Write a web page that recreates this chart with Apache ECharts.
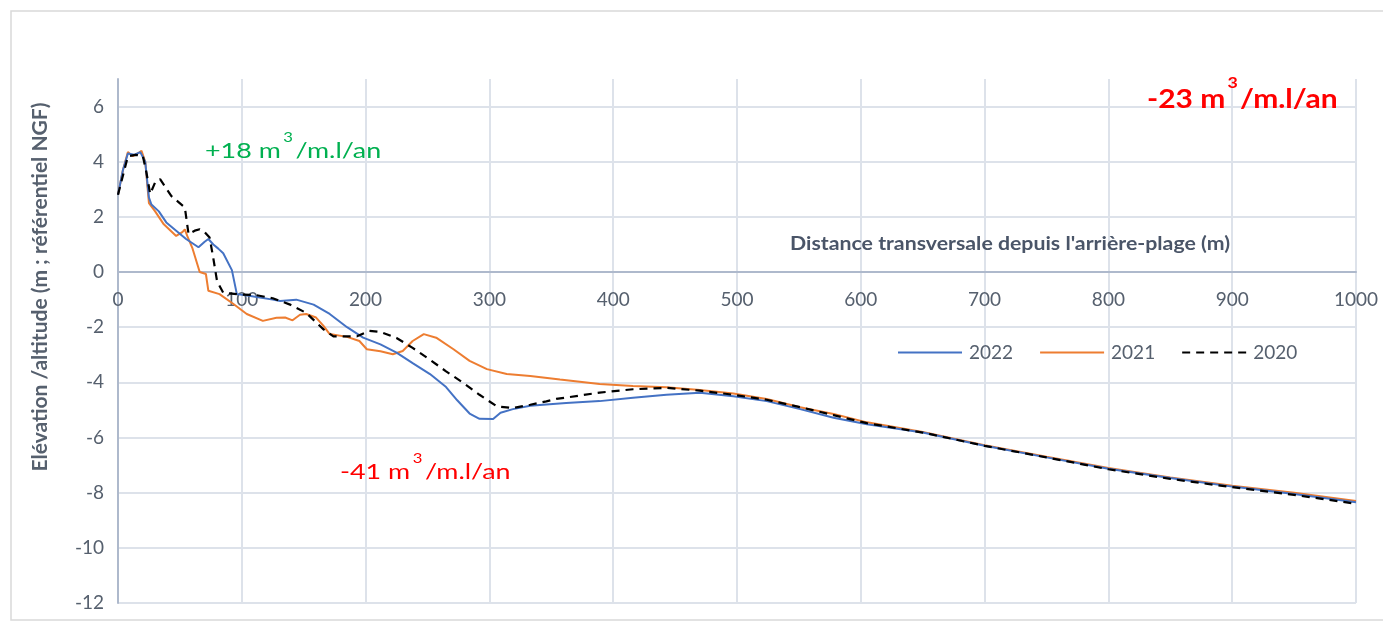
<!DOCTYPE html>
<html>
<head>
<meta charset="utf-8">
<script src="https://cdn.jsdelivr.net/npm/echarts@6/dist/echarts.min.js"></script>
<style>
html,body{margin:0;padding:0;background:#fff;}
#c{width:1383px;height:628px;}
</style>
</head>
<body>
<div id="c"></div>
<script>
// ---- Data ----
const xTicks = [0,100,200,300,400,500,600,700,800,900,1000];
const yTicks = [-12,-10,-8,-6,-4,-2,0,2,4,6];

const dist2022 = [0,4,8,13,18,22,25,27,33,39,47,55,65,70,73,77,81,85,92,96,107,125,131,144,158,171,185,198,212,225,238,252,265,274,284,292,303,309,319,333,346,362,389,416,443,470,497,524,551,578,605,650,700,750,800,850,900,950,1000];
const elev2022 = [2.8,3.7,4.3,4.25,4.35,4.0,2.7,2.45,2.2,1.8,1.5,1.2,0.9,1.1,1.2,1.0,0.85,0.68,0.07,-0.8,-0.87,-1.0,-1.05,-1.0,-1.18,-1.52,-2.0,-2.38,-2.62,-2.92,-3.3,-3.7,-4.17,-4.65,-5.13,-5.32,-5.33,-5.1,-4.97,-4.85,-4.8,-4.75,-4.68,-4.56,-4.45,-4.38,-4.5,-4.68,-4.97,-5.28,-5.52,-5.82,-6.3,-6.72,-7.13,-7.47,-7.78,-8.05,-8.35];

const dist2021 = [0,4,8,12,16,19,22,25,30,37,47,52,54,56,60,66,71,73,82,93,104,117,128,135,141,147,152,160,166,171,185,195,201,212,222,230,238,247,257,271,284,298,314,333,357,389,416,443,470,497,524,551,578,605,650,700,750,800,850,900,950,1000];
const elev2021 = [2.8,3.7,4.35,4.2,4.3,4.4,4.0,2.5,2.2,1.73,1.31,1.45,1.55,1.3,0.88,0.0,-0.07,-0.68,-0.8,-1.15,-1.52,-1.77,-1.66,-1.65,-1.75,-1.55,-1.52,-1.65,-1.95,-2.25,-2.35,-2.5,-2.8,-2.87,-2.98,-2.86,-2.5,-2.25,-2.38,-2.8,-3.22,-3.52,-3.7,-3.77,-3.9,-4.06,-4.13,-4.18,-4.28,-4.4,-4.6,-4.9,-5.15,-5.45,-5.8,-6.28,-6.7,-7.1,-7.45,-7.75,-8.0,-8.3];

const dist2020 = [0,4,8,14,20,23,26,30,34,43,54,57,62,66,70,74,77,80,85,98,112,125,131,139,152,166,174,185,193,203,212,225,238,252,265,279,292,306,319,333,346,354,362,389,416,443,470,497,524,551,578,605,650,700,750,800,850,900,950,1000];
const elev2020 = [2.8,3.5,4.2,4.25,4.22,3.6,2.83,3.25,3.37,2.76,2.34,1.37,1.5,1.55,1.45,1.25,0.5,-0.33,-0.75,-0.81,-0.84,-0.95,-1.05,-1.18,-1.48,-2.08,-2.33,-2.33,-2.33,-2.13,-2.17,-2.39,-2.75,-3.18,-3.6,-4.02,-4.45,-4.87,-4.93,-4.81,-4.69,-4.6,-4.55,-4.37,-4.25,-4.2,-4.3,-4.45,-4.63,-4.9,-5.19,-5.48,-5.82,-6.3,-6.72,-7.15,-7.5,-7.8,-8.08,-8.4];

const seriesNames = ['2022','2021','2020'];
const annotations = [
  {main1:'+18 m', sup:'3', main2:'/m.l/an', color:'#00B050', bold:false},
  {main1:'-41 m', sup:'3', main2:'/m.l/an', color:'#FF0000', bold:false},
  {main1:'-23 m', sup:'3', main2:'/m.l/an', color:'#FF0000', bold:true}
];
const yAxisTitle = 'Elévation /altitude (m ; référentiel NGF)';
const xAxisTitle = "Distance transversale depuis l'arrière-plage (m)";

// ---- Chart ----
const zip = (a, b) => a.map((v, i) => [v, b[i]]);
const FONT = 'Lato';
const TXT = '#56606e';
const GRID = '#dde2ea';
const AXIS = '#aeb9cc';

const W = 1383, H = 628;
const G = {left: 118, right: 27, top: 79, bottom: 25};
const Y_MIN = yTicks[0], Y_MAX = 7;
const gridH = H - G.top - G.bottom;
// move the x axis up to the zero line
const xAxisOffset = -gridH * (0 - Y_MIN) / (Y_MAX - Y_MIN);

const chart = echarts.init(document.getElementById('c'), null, {renderer: 'canvas', width: W, height: H});

function annoText(a, x, y, size, supSize, lh, sx) {
  return {
    type: 'text', x: x, y: y, scaleX: sx, z: 100, silent: true,
    style: {
      text: '{m|' + a.main1 + '}{s|' + a.sup + '}{m|' + a.main2 + '}',
      align: 'left', verticalAlign: 'middle',
      rich: {
        m: {fontFamily: FONT, fontSize: size, fontWeight: a.bold ? 'bold' : 'normal', fill: a.color, color: a.color, lineHeight: lh},
        s: {fontFamily: FONT, fontSize: supSize, fontWeight: a.bold ? 'bold' : 'normal', fill: a.color, color: a.color, lineHeight: supSize + 1, verticalAlign: 'top', padding: [0, 2, 0, 2]}
      }
    }
  };
}

const option = {
  backgroundColor: '#fff',
  animation: false,
  grid: {left: G.left, right: G.right, top: G.top, bottom: G.bottom, containLabel: false, outerBoundsMode: 'none'},
  legend: {
    left: 897, top: 343, padding: 0,
    itemWidth: 64, itemHeight: 14, itemGap: 26,
    itemStyle: {opacity: 0},
    textStyle: {fontFamily: FONT, fontSize: 19, color: TXT, padding: [0, 0, 0, 2]},
    data: seriesNames
  },
  xAxis: {
    type: 'value', min: xTicks[0], max: xTicks[xTicks.length - 1], interval: 100,
    position: 'bottom', offset: xAxisOffset,
    axisLine: {show: true, onZero: false, lineStyle: {color: AXIS, width: 2}},
    axisTick: {show: false},
    axisLabel: {fontFamily: FONT, fontSize: 19, color: TXT, margin: 18, formatter: v => String(v)},
    splitLine: {show: true, lineStyle: {color: GRID, width: 2}}
  },
  yAxis: {
    type: 'value', min: Y_MIN, max: Y_MAX, interval: 2,
    axisLine: {show: true, onZero: false, lineStyle: {color: AXIS, width: 2}},
    axisTick: {show: false},
    axisLabel: {fontFamily: FONT, fontSize: 19, color: TXT, margin: 14, showMaxLabel: false},
    splitLine: {show: true, showMaxLine: false, lineStyle: {color: GRID, width: 2}}
  },
  series: [
    {name: seriesNames[0], type: 'line', data: zip(dist2022, elev2022), symbol: 'none', lineStyle: {color: '#4472C4', width: 2}, itemStyle: {color: '#4472C4'}, z: 3},
    {name: seriesNames[1], type: 'line', data: zip(dist2021, elev2021), symbol: 'none', lineStyle: {color: '#ED7D31', width: 2}, itemStyle: {color: '#ED7D31'}, z: 2},
    {name: seriesNames[2], type: 'line', data: zip(dist2020, elev2020), symbol: 'none', lineStyle: {color: '#000000', width: 2.2, type: [8, 6]}, itemStyle: {color: '#000000'}, z: 4}
  ],
  graphic: [
    {type: 'rect', z: -10, silent: true, shape: {x: 11, y: 11, width: 1390, height: 609}, style: {fill: 'none', stroke: '#d9d9d9', lineWidth: 1.5}},
    {type: 'text', x: 40, y: 287, rotation: Math.PI / 2, z: 100, silent: true,
      style: {text: yAxisTitle, fontFamily: FONT, fontSize: 21, fontWeight: 'bold', fill: TXT, align: 'center', verticalAlign: 'middle'}},
    {type: 'text', x: 1230, y: 244, scaleX: 1.15, z: 100, silent: true,
      style: {text: xAxisTitle, fontFamily: FONT, fontSize: 18.5, fontWeight: 'bold', fill: '#4a5568', align: 'right', verticalAlign: 'middle'}},
    annoText(annotations[0], 205, 151, 21, 13, 40, 1.28),
    annoText(annotations[1], 340, 472, 21, 13, 40, 1.28),
    annoText(annotations[2], 1147, 99, 27, 16, 48, 1.11)
  ]
};
chart.setOption(option);
</script>
</body>
</html>
